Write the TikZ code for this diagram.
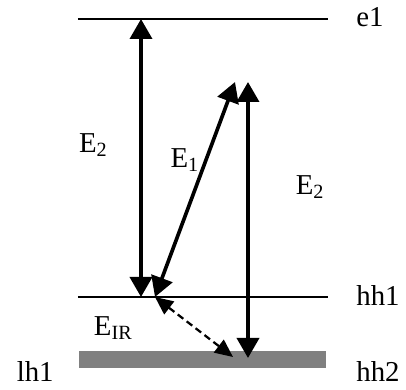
\documentclass[tikz,border=0pt]{standalone}
\usepackage{fontspec}
\setmainfont{Liberation Serif}
\usetikzlibrary{arrows.meta}

\tikzset{
  level/.style={line width=1.4pt},
  trans/.style={{Triangle[width=0.55cm,length=0.5cm]}-{Triangle[width=0.55cm,length=0.5cm]}, line width=2.6pt},
  relax/.style={{Triangle[width=0.4cm,length=0.45cm]}-{Triangle[width=0.4cm,length=0.45cm]}, line width=1.6pt, dash pattern=on 5pt off 3pt},
}

\begin{document}
\begin{tikzpicture}[font=\fontsize{20.5}{24}\selectfont]
  \useasboundingbox (0,0) rectangle (10.15,9.75);
  % subband levels
  \coordinate (e1l) at (1.95,9.275);
  \coordinate (e1r) at (8.2,9.275);
  \coordinate (hh1l) at (1.95,2.325);
  \coordinate (hh1r) at (8.2,2.325);
  \draw[level] (e1l) -- (e1r);
  \draw[level] (hh1l) -- (hh1r);
  \fill[gray] (1.975,0.55) rectangle (8.15,0.975);
  \node (e1) at (9.25,9.33) {e1};
  \node (hh1) at (9.45,2.36) {hh1};
  \node (hh2) at (9.45,0.46) {hh2};
  \node (lh1) at (0.88,0.46) {lh1};
  % transitions
  \coordinate (a) at (3.525,9.275);
  \coordinate (b) at (3.525,2.325);
  \coordinate (c) at (3.875,2.325);
  \coordinate (d) at (5.875,7.7);
  \coordinate (f) at (6.2,7.7);
  \coordinate (g) at (6.2,0.8);
  \coordinate (h) at (5.825,0.825);
  \draw[trans] (b) -- (a);
  \draw[trans] (c) -- (d);
  \draw[trans] (g) -- (f);
  \draw[relax] (c) -- (h);
  \node (E2a) at (2.33,6.12) {E\textsubscript{2}};
  \node (E1) at (4.62,5.75) {E\textsubscript{1}};
  \node (E2b) at (7.75,5.07) {E\textsubscript{2}};
  \node (EIR) at (2.83,1.55) {E\textsubscript{IR}};
\end{tikzpicture}
\end{document}
